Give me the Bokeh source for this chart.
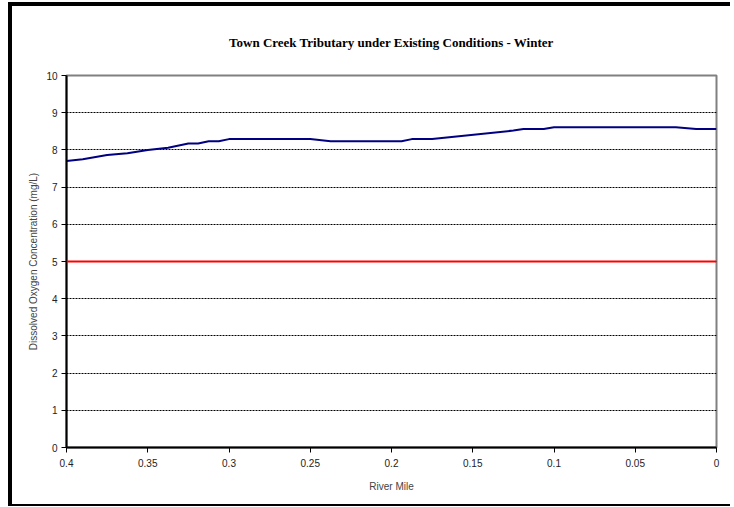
from bokeh.plotting import figure
from bokeh.models import Range1d, FixedTicker, Title, Span
from bokeh.embed import file_html
from bokeh.resources import INLINE

# Data (River Mile vs Dissolved Oxygen, mg/L)
river_mile = [0.4, 0.39, 0.375, 0.3625, 0.35, 0.3375, 0.325, 0.319, 0.3125, 0.3063, 0.3,
              0.25, 0.2375, 0.1938, 0.1875, 0.175, 0.125, 0.1188, 0.1063, 0.1,
              0.025, 0.0125, 0.0]
do_values = [7.70, 7.75, 7.86, 7.91, 8.00, 8.06, 8.17, 8.17, 8.23, 8.23, 8.29,
             8.29, 8.23, 8.23, 8.29, 8.29, 8.52, 8.56, 8.56, 8.61,
             8.61, 8.56, 8.56]
standard_value = 5
x_ticks = [0.4, 0.35, 0.3, 0.25, 0.2, 0.15, 0.1, 0.05, 0.0]
x_tick_labels = ["0.4", "0.35", "0.3", "0.25", "0.2", "0.15", "0.1", "0.05", "0"]
y_ticks = list(range(0, 11))

p = figure(width=722, height=504, output_backend="svg", toolbar_location=None,
           x_range=Range1d(0.4, 0.0), y_range=Range1d(0, 10),
           min_border_left=54, min_border_right=18, min_border_top=68, min_border_bottom=63)
p.margin = (2, 0, 0, 8)
p.styles = {"border-left": "4px solid black", "border-top": "4px solid black",
            "border-bottom": "2px solid black"}

p.title = Title(text="Town Creek Tributary under Existing Conditions - Winter",
                align="center", text_font="Liberation Serif", text_font_size="13px",
                text_font_style="bold", text_color="black", standoff=52)

p.outline_line_color = "#808080"
p.outline_line_width = 2
p.background_fill_color = "white"
p.border_fill_color = "white"

p.xgrid.visible = False
p.ygrid.ticker = FixedTicker(ticks=y_ticks[1:-1])
p.ygrid.grid_line_color = "black"
p.ygrid.grid_line_dash = "2 1"
p.ygrid.grid_line_width = 1

for ax in (p.xaxis, p.yaxis):
    ax.axis_line_color = "black"
    ax.axis_line_width = 2
    ax.major_tick_line_color = "black"
    ax.major_tick_line_width = 1
    ax.major_tick_out = 5
    ax.major_tick_in = 0
    ax.minor_tick_line_color = None
    ax.major_label_text_font = "Liberation Sans"
    ax.major_label_text_font_size = "10px"
    ax.major_label_text_color = "#222222"
    ax.axis_label_text_font = "Liberation Sans"
    ax.axis_label_text_font_style = "normal"

p.xaxis.ticker = FixedTicker(ticks=x_ticks)
p.xaxis.major_label_overrides = {t: l for t, l in zip(x_ticks, x_tick_labels)}
p.xaxis.major_label_standoff = 6
p.xaxis.axis_label = "River Mile"
p.xaxis.axis_label_text_font_size = "10px"
p.xaxis.axis_label_standoff = 11

p.yaxis.ticker = FixedTicker(ticks=y_ticks)
p.yaxis.major_label_standoff = 4
p.yaxis.axis_label = "Dissolved Oxygen Concentration (mg/L)"
p.yaxis.axis_label_text_font_size = "10px"
p.yaxis.axis_label_text_color = "#444444"
p.yaxis.axis_label_standoff = 4

p.add_layout(Span(location=standard_value, dimension="width", line_color="red", line_width=2))
p.line(river_mile, do_values, line_color="#000080", line_width=2)

open("out.html", "w").write(file_html(p, INLINE))
